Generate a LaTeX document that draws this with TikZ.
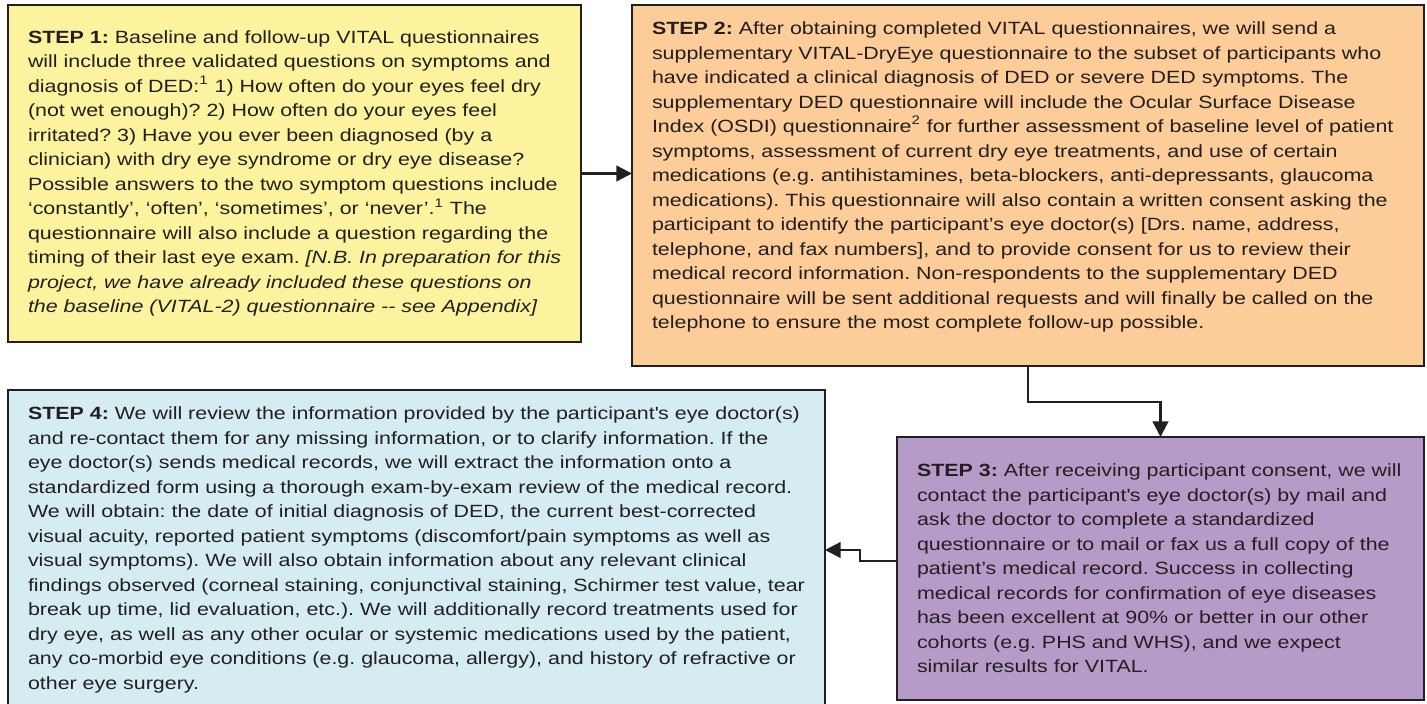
\documentclass[tikz,border=0pt]{standalone}
\usepackage{fontspec}
\setmainfont{Liberation Sans}[FakeStretch=1.21]
\usetikzlibrary{arrows.meta}
\frenchspacing

\definecolor{ink}{RGB}{35,31,32}
\definecolor{stepyellow}{RGB}{251,243,157}
\definecolor{steporange}{RGB}{252,204,153}
\definecolor{steppurple}{RGB}{182,155,201}
\definecolor{stepblue}{RGB}{213,236,243}

\begin{document}
\begin{tikzpicture}[x=0.5pt, y=-0.5pt,
  stepbox/.style={draw=ink, line width=1.2pt, rectangle, anchor=north west, outer sep=0pt,
    inner xsep=10pt, inner ysep=0pt, align=justify, text=ink,
    font=\fontsize{8.85pt}{12.25pt}\selectfont},
  flow/.style={draw=ink, line width=1.15pt, -{Triangle[length=7.8pt,width=7.8pt]}}]
  \useasboundingbox (0,0) rectangle (1427,704);

  \node[stepbox, fill=stepyellow, text width=266.5pt, minimum height=168.5pt] (1) at (8, 5) {\textbf{STEP 1:} Baseline and follow-up VITAL questionnaires\\
will include three validated questions on symptoms and\\
diagnosis of DED:\textsuperscript{1} 1) How often do your eyes feel dry\\
(not wet enough)? 2) How often do your eyes feel\\
irritated? 3) Have you ever been diagnosed (by a\\
clinician) with dry eye syndrome or dry eye disease?\\
Possible answers to the two symptom questions include\\
`constantly', `often', `sometimes', or `never'.\textsuperscript{1} The\\
questionnaire will also include a question regarding the\\
timing of their last eye exam. \textit{[N.B. In preparation for this}\\
\textit{project, we have already included these questions on}\\
\textit{the baseline (VITAL-2) questionnaire -{}- see Appendix]}};

  \node[stepbox, fill=steporange, text width=376pt, minimum height=180.5pt] (2) at (632, 5) {\textbf{STEP 2:} After obtaining completed VITAL questionnaires, we will send a\\
supplementary VITAL-DryEye questionnaire to the subset of participants who\\
have indicated a clinical diagnosis of DED or severe DED symptoms. The\\
supplementary DED questionnaire will include the Ocular Surface Disease\\
Index (OSDI) questionnaire\textsuperscript{2} for further assessment of baseline level of patient\\
symptoms, assessment of current dry eye treatments, and use of certain\\
medications (e.g. antihistamines, beta-blockers, anti-depressants, glaucoma\\
medications). This questionnaire will also contain a written consent asking the\\
participant to identify the participant's eye doctor(s) [Drs. name, address,\\
telephone, and fax numbers], and to provide consent for us to review their\\
medical record information. Non-respondents to the supplementary DED\\
questionnaire will be sent additional requests and will finally be called on the\\
telephone to ensure the most complete follow-up possible.\par\vspace*{8.5pt}};

  \node[stepbox, fill=steppurple, text width=243.5pt, minimum height=131.5pt] (3) at (897, 437) {\textbf{STEP 3:} After receiving participant consent, we will\\
contact the participant\textquotesingle s eye doctor(s) by mail and\\
ask the doctor to complete a standardized\\
questionnaire or to mail or fax us a full copy of the\\
patient's medical record. Success in collecting\\
medical records for confirmation of eye diseases\\
has been excellent at 90\% or better in our other\\
cohorts (e.g. PHS and WHS), and we expect\\
similar results for VITAL.};

  \node[stepbox, fill=stepblue, text width=388.5pt, minimum height=160pt] (4) at (8, 390) {\textbf{STEP 4:} We will review the information provided by the participant\textquotesingle s eye doctor(s)\\
and re-contact them for any missing information, or to clarify information. If the\\
eye doctor(s) sends medical records, we will extract the information onto a\\
standardized form using a thorough exam-by-exam review of the medical record.\\
We will obtain: the date of initial diagnosis of DED, the current best-corrected\\
visual acuity, reported patient symptoms (discomfort/pain symptoms as well as\\
visual symptoms). We will also obtain information about any relevant clinical\\
findings observed (corneal staining, conjunctival staining, Schirmer test value, tear\\
break up time, lid evaluation, etc.). We will additionally record treatments used for\\
dry eye, as well as any other ocular or systemic medications used by the patient,\\
any co-morbid eye conditions (e.g. glaucoma, allergy), and history of refractive or\\
other eye surgery.};

  \draw[flow] (1.east) -- (1.east -| 2.west);
  \draw[flow] (2.south) -- ++(0, 36) -| (3.north);
  \draw[flow] ([yshift=3.75pt]3.west) -- ++(-37, 0) |- (4.east);
\end{tikzpicture}
\end{document}
